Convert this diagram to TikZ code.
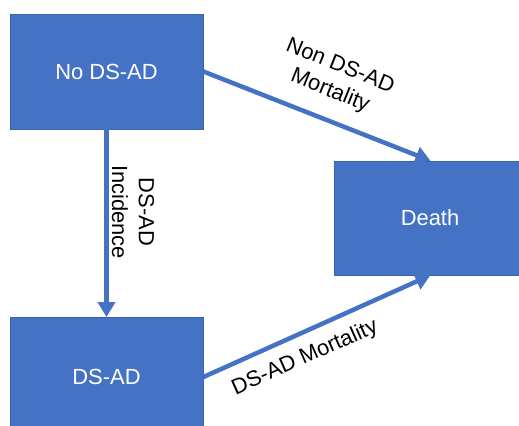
\documentclass[tikz,border=0pt]{standalone}
\usepackage{fontspec}
\setmainfont{Liberation Sans}
\usetikzlibrary{arrows.meta}
\definecolor{boxblue}{HTML}{4472C4}
\definecolor{boxedge}{HTML}{3A62AB}
\tikzset{
  statebox/.style={rectangle, fill=boxblue, draw=boxedge, line width=0.8bp, text=white,
    minimum width=193bp, minimum height=#1, inner sep=0pt, font=\fontsize{22}{27}\selectfont},
  statebox/.default=115bp,
  flow/.style={draw=boxblue, line width=4.5bp, -{Triangle[length=15bp,width=17bp]}, shorten >=-0.5bp},
  flowlabel/.style={align=center, inner sep=0pt, font=\fontsize{22}{27}\selectfont}
}
\begin{document}
\begin{tikzpicture}[x=1bp,y=-1bp]
\useasboundingbox (0,0) rectangle (519,425);
\clip (0,0) rectangle (519,425);
\node[statebox] (nods) at (106.5,71.5) {No DS-AD};
\node[statebox=120bp] (dsad) at (106.5,377) {DS-AD};
\node[statebox=114bp, minimum width=192bp] (death) at (430,218) {Death};
\draw[flow] (nods.east) -- (death.north);
\draw[flow] (nods.south) -- (dsad.north);
\draw[flow] (dsad.east) -- (death.south);
\node[flowlabel, rotate=-22] (l1) at (335,79) {Non DS-AD\\Mortality};
\node[flowlabel, rotate=-90] (l2) at (133,212) {DS-AD\\Incidence};
\node[flowlabel, rotate=24] (l3) at (305,358) {DS-AD Mortality};
\end{tikzpicture}
\end{document}
